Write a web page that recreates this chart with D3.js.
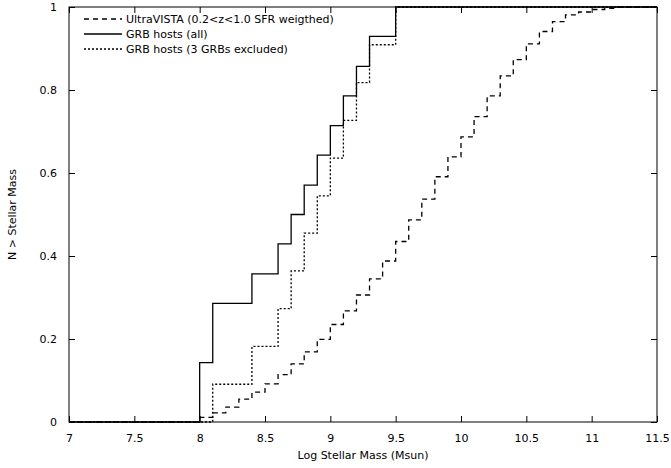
<!DOCTYPE html>
<html>
<head>
<meta charset="utf-8">
<script src="https://cdn.jsdelivr.net/npm/d3@7"></script>
<style>
  body { margin: 0; background: #fff; }
  svg text { font-family: "DejaVu Sans", sans-serif; font-size: 11px; fill: #000; }
</style>
</head>
<body>
<div class="chart"></div>
<script>
const width = 671, height = 468
const margin = { top: 7, right: 14, bottom: 46, left: 69 }

// x ticks / y ticks
const xTicks = [7, 7.5, 8, 8.5, 9, 9.5, 10, 10.5, 11, 11.5]
const yTicks = [0, 0.2, 0.4, 0.6, 0.8, 1]

// UltraVISTA cumulative (step after each mass)
const vistaMass = [7, 8.0, 8.1, 8.2, 8.3, 8.4, 8.5, 8.6, 8.7, 8.8, 8.9, 9.0, 9.1, 9.2, 9.3, 9.4, 9.5, 9.6, 9.7, 9.8, 9.9,
                   10.0, 10.1, 10.2, 10.3, 10.4, 10.5, 10.6, 10.7, 10.8, 10.9, 11.0, 11.1, 11.2, 11.5]
const vistaFrac = [0, 0.011, 0.022, 0.036, 0.055, 0.072, 0.092, 0.114, 0.140, 0.169, 0.199, 0.235, 0.268, 0.306, 0.345, 0.388, 0.435, 0.487, 0.537, 0.591, 0.639,
                   0.687, 0.736, 0.786, 0.834, 0.873, 0.911, 0.941, 0.965, 0.981, 0.988, 0.994, 0.997, 1, 1]

// GRB hosts (all)
const grbAllMass = [7, 8.0, 8.1, 8.4, 8.6, 8.7, 8.8, 8.9, 9.0, 9.1, 9.2, 9.3, 9.5, 11.5]
const grbAllFrac = [0, 0.143, 0.286, 0.357, 0.429, 0.5, 0.571, 0.643, 0.714, 0.786, 0.857, 0.929, 1, 1]

// GRB hosts (3 GRBs excluded)
const grbExclMass = [7, 8.1, 8.4, 8.6, 8.7, 8.8, 8.9, 9.0, 9.1, 9.2, 9.3, 9.5, 11.5]
const grbExclFrac = [0, 0.091, 0.182, 0.273, 0.364, 0.455, 0.545, 0.636, 0.727, 0.818, 0.909, 1, 1]

const legendLabels = ["UltraVISTA (0.2<z<1.0 SFR weigthed)", "GRB hosts (all)", "GRB hosts (3 GRBs excluded)"]
const dashes = ["5,4", null, "2,2"]

const x = d3.scaleLinear().domain([7, 11.5]).range([margin.left, width - margin.right])
const y = d3.scaleLinear().domain([0, 1]).range([height - margin.bottom, margin.top])

const svg = d3.select(".chart").append("svg").attr("width", width).attr("height", height)

const series = [
    vistaMass.map((m, i) => [m, vistaFrac[i]]),
    grbAllMass.map((m, i) => [m, grbAllFrac[i]]),
    grbExclMass.map((m, i) => [m, grbExclFrac[i]])
]

const line = d3.line().x(d => x(d[0])).y(d => y(d[1])).curve(d3.curveStepAfter)

series.forEach((s, i) => {
    svg.append("path")
      .attr("d", line(s))
      .attr("fill", "none")
      .attr("stroke", "#000")
      .attr("stroke-width", 1.3)
      .attr("stroke-dasharray", dashes[i])
})

// frame
svg.append("rect")
  .attr("x", x(7)).attr("y", y(1))
  .attr("width", x(11.5) - x(7)).attr("height", y(0) - y(1))
  .attr("fill", "none").attr("stroke", "#000").attr("stroke-width", 1)

const tl = 6
// axes with inward ticks, mirrored
const axBottom = svg.append("g").attr("transform", `translate(0,${y(0)})`)
  .call(d3.axisBottom(x).tickValues(xTicks).tickSizeInner(-tl).tickSizeOuter(0).tickPadding(12).tickFormat(d3.format("")))
const axTop = svg.append("g").attr("transform", `translate(0,${y(1)})`)
  .call(d3.axisTop(x).tickValues(xTicks).tickSizeInner(-tl).tickSizeOuter(0).tickFormat(""))
const axLeft = svg.append("g").attr("transform", `translate(${x(7)},0)`)
  .call(d3.axisLeft(y).tickValues(yTicks).tickSizeInner(-tl).tickSizeOuter(0).tickPadding(12).tickFormat(d3.format("")))
const axRight = svg.append("g").attr("transform", `translate(${x(11.5)},0)`)
  .call(d3.axisRight(y).tickValues(yTicks).tickSizeInner(-tl).tickSizeOuter(0).tickFormat(""))

;[axBottom, axTop, axLeft, axRight].forEach(g => {
    g.select(".domain").remove()
    g.selectAll("text").attr("font-family", "DejaVu Sans").attr("font-size", 11)
    g.selectAll("line").attr("stroke", "#000")
})

svg.append("text")
  .attr("x", (x(7) + x(11.5)) / 2).attr("y", 459)
  .attr("text-anchor", "middle")
  .text("Log Stellar Mass (Msun)")

svg.append("text")
  .attr("transform", `translate(16,${(y(0) + y(1)) / 2}) rotate(-90)`)
  .attr("text-anchor", "middle")
  .text("N > Stellar Mass")

// legend
const leg = svg.append("g")
legendLabels.forEach((t, i) => {
    const ly = 19 + i * 15
    leg.append("line")
      .attr("x1", 84).attr("x2", 122).attr("y1", ly).attr("y2", ly)
      .attr("stroke", "#000").attr("stroke-width", 1.3)
      .attr("stroke-dasharray", dashes[i])
    leg.append("text")
      .attr("x", 126).attr("y", ly + 4)
      .text(t)
})
</script>
</body>
</html>
